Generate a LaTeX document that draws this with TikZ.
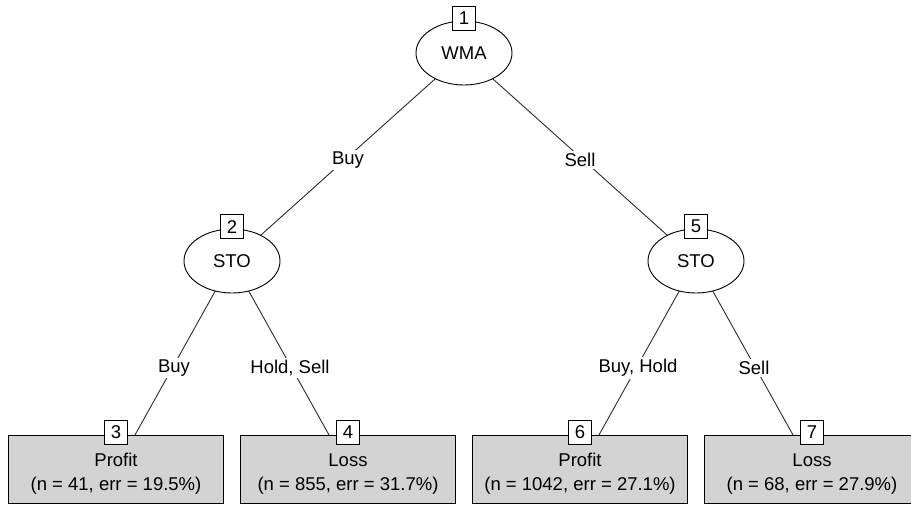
\documentclass[tikz,border=0pt]{standalone}
\usepackage{fontspec}
\setmainfont{Liberation Sans}
\usetikzlibrary{shapes.geometric,backgrounds}
\definecolor{leafgray}{HTML}{D3D3D3}
\definecolor{edgegray}{HTML}{2B2B2B}
\tikzset{
  inode/.style={ellipse,draw=black,fill=white,minimum width=96pt,
    minimum height=64pt,inner sep=0pt,line width=0.9pt},
  leaf/.style={rectangle,draw=black,fill=leafgray,minimum width=215pt,
    minimum height=68pt,inner sep=0pt,line width=0.9pt},
  idbox/.style={rectangle,draw=black,fill=white,minimum width=23pt,
    minimum height=24pt,inner sep=0pt,line width=0.9pt},
  ltext/.style={align=center,inner sep=0pt},
  tedge/.style={draw=edgegray,line width=0.9pt},
  elabel/.style={fill=white,inner sep=2pt,yshift=-3pt},
}

\begin{document}
\begin{tikzpicture}[x=1pt,y=-1pt,font=\fontsize{18.5}{24}\selectfont]
  \useasboundingbox (0,0) rectangle (911,506);
  % inner nodes
  \node[inode] (n1) at (464,53){WMA};
  \node[inode] (n2) at (232,261){STO};
  \node[inode] (n5) at (696,261){STO};
  % terminal nodes
  \node[leaf] (n3) at (116,469){}; \node[leaf] (n4) at (348,469){};
  \node[leaf] (n6) at (580,469){}; \node[leaf] (n7) at (812,469){};
  \node[ltext] (t3) at ([yshift=-5pt]n3.center){Profit\\(n = 41, err = 19.5\%)};
  \node[ltext] (t4) at ([yshift=-5pt]n4.center){Loss\\(n = 855, err = 31.7\%)};
  \node[ltext] (t6) at ([yshift=-5pt]n6.center){Profit\\(n = 1042, err = 27.1\%)};
  \node[ltext] (t7) at ([yshift=-5pt]n7.center){Loss\\(n = 68, err = 27.9\%)};
  % node ids
  \foreach \i in {1,2,3,4,5,6,7}
    \node[idbox] (id\i) at ([yshift=2pt]n\i.north){\i};
  % splits
  \begin{scope}[on background layer]
    \draw[tedge] (n1.center) -- node[elabel]{Buy} (n2.center);
    \draw[tedge] (n1.center) -- node[elabel]{Sell} (n5.center);
    \draw[tedge] (n2.center) -- node[elabel]{Buy} (n3.center);
    \draw[tedge] (n2.center) -- node[elabel]{Hold, Sell} (n4.center);
    \draw[tedge] (n5.center) -- node[elabel]{Buy, Hold} (n6.center);
    \draw[tedge] (n5.center) -- node[elabel]{Sell} (n7.center);
  \end{scope}
\end{tikzpicture}
\end{document}
